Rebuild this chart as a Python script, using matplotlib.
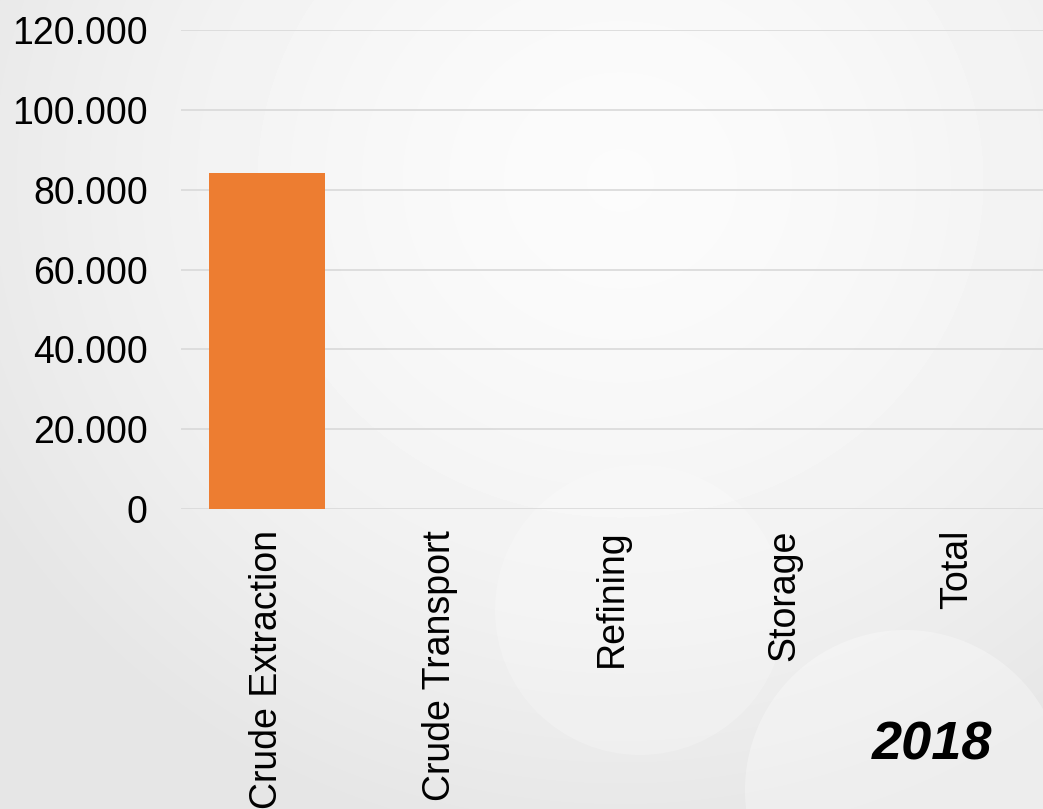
import numpy as np
import matplotlib.pyplot as plt
from matplotlib.patches import Circle
from matplotlib.ticker import FuncFormatter, MultipleLocator

plt.rcParams['font.family'] = ['Liberation Sans', 'DejaVu Sans']

categories = ['Crude Extraction', 'Crude Transport', 'Refining', 'Storage', 'Total']
values = [84300, 0, 0, 0, 0]
year_label = '2018'

W, H = 1043, 809
fig = plt.figure(figsize=(W / 100, H / 100), dpi=100)

# soft grey backdrop, lighter towards the upper middle
bg = fig.add_axes([0, 0, 1, 1])
yy, xx = np.mgrid[0:H, 0:W]
d = np.sqrt(((xx - 620) / 700.0) ** 2 + ((yy - 180) / 650.0) ** 2)
shade = np.clip(0.985 - 0.08 * d ** 1.6, 0.90, 0.985)
bg.imshow(shade, cmap='gray', vmin=0, vmax=1, extent=[0, W, H, 0], aspect='auto')
for cx, cy, r, a in [(640, 610, 145, 0.22), (905, 790, 160, 0.3),
                     (470, 250, 200, 0.07), (470, 400, 120, 0.07)]:
    bg.add_patch(Circle((cx, cy), r, color='white', alpha=a, lw=0))
bg.set_xlim(0, W)
bg.set_ylim(H, 0)
bg.axis('off')

ax = fig.add_axes([181 / W, (H - 509) / H, 1 - 181 / W, (509 - 30) / H])
ax.patch.set_alpha(0)
x = np.arange(len(categories))
ax.bar(x, values, width=0.67, color='#ed7d31', zorder=3)
ax.set_xlim(-0.5, len(categories) - 0.5)
ax.set_ylim(0, 120000)
ax.yaxis.set_major_locator(MultipleLocator(20000))
ax.yaxis.set_major_formatter(FuncFormatter(lambda v, p: '{:,.0f}'.format(v).replace(',', '.')))
ax.grid(axis='y', color='#d9d9d9', lw=1.2, zorder=0)
for s in ax.spines.values():
    s.set_visible(False)
ax.set_xticks(x)
ax.set_xticklabels(categories, rotation=90, va='top')
ax.tick_params(axis='y', length=0, pad=24, labelsize=27, colors='black')
ax.tick_params(axis='x', length=0, pad=15, labelsize=27, colors='black')

fig.text(992 / W, 1 - 760 / H, year_label, ha='right', va='baseline',
         fontsize=39, fontweight='bold', fontstyle='italic')

fig.savefig('out.png', dpi=100)
